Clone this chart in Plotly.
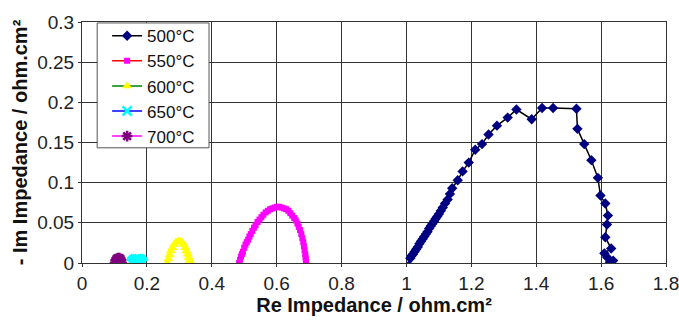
import plotly.graph_objects as go

# ---- data ----
x500 = [1.008, 1.012, 1.016, 1.020, 1.025, 1.030, 1.035, 1.040, 1.045, 1.050, 1.055, 1.060,
        1.065, 1.070, 1.075, 1.080, 1.085, 1.090, 1.095, 1.100, 1.106, 1.112, 1.119, 1.127,
        1.134, 1.141, 1.158, 1.173, 1.192, 1.212, 1.233, 1.253, 1.279, 1.312, 1.339, 1.386,
        1.418, 1.452, 1.524, 1.527, 1.548, 1.570, 1.590, 1.598, 1.613, 1.621, 1.618, 1.613,
        1.631, 1.610, 1.619, 1.637, 1.627]
y500 = [-0.003, 0.006, 0.009, 0.011, 0.014, 0.017, 0.020, 0.024, 0.027, 0.030, 0.033, 0.036,
        0.039, 0.043, 0.046, 0.049, 0.052, 0.055, 0.058, 0.061, 0.065, 0.069, 0.074, 0.079,
        0.086, 0.093, 0.103, 0.114, 0.125, 0.141, 0.148, 0.160, 0.171, 0.181, 0.191, 0.179,
        0.193, 0.193, 0.192, 0.167, 0.148, 0.128, 0.106, 0.084, 0.074, 0.059, 0.048, 0.032,
        0.018, 0.012, 0.007, 0.003, 0.001]

x550 = [0.484, 0.487, 0.490, 0.493, 0.496, 0.500, 0.504, 0.508, 0.512, 0.516, 0.520, 0.525,
        0.530, 0.535, 0.541, 0.547, 0.553, 0.559, 0.566, 0.573, 0.580, 0.587, 0.594, 0.601,
        0.608, 0.615, 0.622, 0.629, 0.636, 0.642, 0.648, 0.654, 0.659, 0.664, 0.668, 0.672,
        0.676, 0.679, 0.682, 0.684, 0.686, 0.688, 0.689, 0.690, 0.691]
y550 = [0.000, 0.004, 0.008, 0.011, 0.014, 0.019, 0.023, 0.026, 0.029, 0.033, 0.036, 0.040,
        0.044, 0.047, 0.051, 0.054, 0.057, 0.060, 0.063, 0.065, 0.067, 0.068, 0.069, 0.070,
        0.070, 0.069, 0.068, 0.067, 0.065, 0.062, 0.059, 0.056, 0.053, 0.049, 0.045, 0.041,
        0.036, 0.031, 0.026, 0.021, 0.016, 0.011, 0.007, 0.004, 0.001]

x600 = [0.263, 0.266, 0.270, 0.274, 0.279, 0.284, 0.290, 0.296, 0.302, 0.308, 0.313, 0.318,
        0.322, 0.326, 0.329, 0.332, 0.334]
y600 = [0.000, 0.005, 0.010, 0.015, 0.019, 0.023, 0.026, 0.027, 0.027, 0.026, 0.023, 0.019,
        0.015, 0.011, 0.007, 0.003, 0.000]

x650 = [0.152, 0.155, 0.159, 0.164, 0.170, 0.176, 0.181, 0.185, 0.188]
y650 = [0.000, 0.002, 0.004, 0.005, 0.005, 0.005, 0.004, 0.002, 0.000]

x700 = [0.102, 0.104, 0.107, 0.111, 0.115, 0.118, 0.120, 0.122]
y700 = [0.000, 0.003, 0.005, 0.006, 0.006, 0.005, 0.003, 0.000]

names = ["500°C", "550°C", "600°C", "650°C", "700°C"]
x_ticks = [0, 0.2, 0.4, 0.6, 0.8, 1, 1.2, 1.4, 1.6, 1.8]
y_ticks = [0, 0.05, 0.1, 0.15, 0.2, 0.25, 0.3]

FONT = "Liberation Sans, Arial, sans-serif"

fig = go.Figure()
fig.add_trace(go.Scatter(x=x500, y=y500, name=names[0], mode="lines+markers",
                         line=dict(color="black", width=1.5),
                         marker=dict(symbol="diamond", size=8, color="#000080")))
fig.add_trace(go.Scatter(x=x550, y=y550, name=names[1], mode="lines+markers",
                         line=dict(color="#FF0000", width=1.5),
                         marker=dict(symbol="square", size=6, color="#FF00FF")))
fig.add_trace(go.Scatter(x=x600, y=y600, name=names[2], mode="lines+markers",
                         line=dict(color="#008000", width=1.5),
                         marker=dict(symbol="triangle-up", size=9, color="#FFFF00")))
fig.add_trace(go.Scatter(x=x650, y=y650, name=names[3], mode="lines+markers",
                         line=dict(color="#0000FF", width=1.5),
                         marker=dict(symbol="x-thin-open", size=9,
                                     line=dict(color="#00FFFF", width=2.5), color="#00FFFF")))
fig.add_trace(go.Scatter(x=x700, y=y700, name=names[4], mode="lines+markers",
                         line=dict(color="#FF00FF", width=1.5),
                         marker=dict(symbol="asterisk-open", size=9,
                                     line=dict(color="#800080", width=2.5), color="#800080")))

axis_common = dict(showgrid=True, gridcolor="#333333", gridwidth=1,
                   showline=True, linecolor="#333333", linewidth=1, mirror=True,
                   ticks="outside", ticklen=3, tickcolor="#333333",
                   tickfont=dict(family=FONT, size=19, color="#222"),
                   ticklabeloverflow="allow",
                   zeroline=False, automargin=False)

fig.update_xaxes(range=[0, 1.8], tickvals=x_ticks, ticktext=[f"{v:g}" for v in x_ticks],
                 title=dict(text="<b>Re Impedance / ohm.cm²</b>",
                            font=dict(family=FONT, size=20, color="#111"), standoff=4),
                 **axis_common)
fig.update_yaxes(range=[0, 0.3], tickvals=y_ticks, ticktext=[f"{v:g}" for v in y_ticks],
                 title=dict(text="<b>- Im Impedance / ohm.cm²</b>",
                            font=dict(family=FONT, size=20, color="#111"), standoff=4),
                 **axis_common)

# legend frame (Excel-style box, wider than plotly's own legend box)
fig.add_shape(type="rect", xref="paper", yref="paper",
              x0=0.026, x1=0.2175, y0=0.478, y1=0.996,
              fillcolor="white", line=dict(color="#555", width=1), layer="above")

fig.update_layout(
    width=679, height=321,
    margin=dict(l=82, r=13, t=22, b=58),
    paper_bgcolor="white", plot_bgcolor="white",
    showlegend=True,
    legend=dict(x=0.043, y=1.016, xanchor="left", yanchor="top",
                bgcolor="rgba(0,0,0,0)", borderwidth=0,
                font=dict(family=FONT, size=17, color="#111"),
                itemwidth=30, tracegroupgap=0),
)

fig.write_html("out.html", config={"displayModeBar": False},
               post_script="document.body.style.margin='0';document.body.style.overflow='hidden';")
